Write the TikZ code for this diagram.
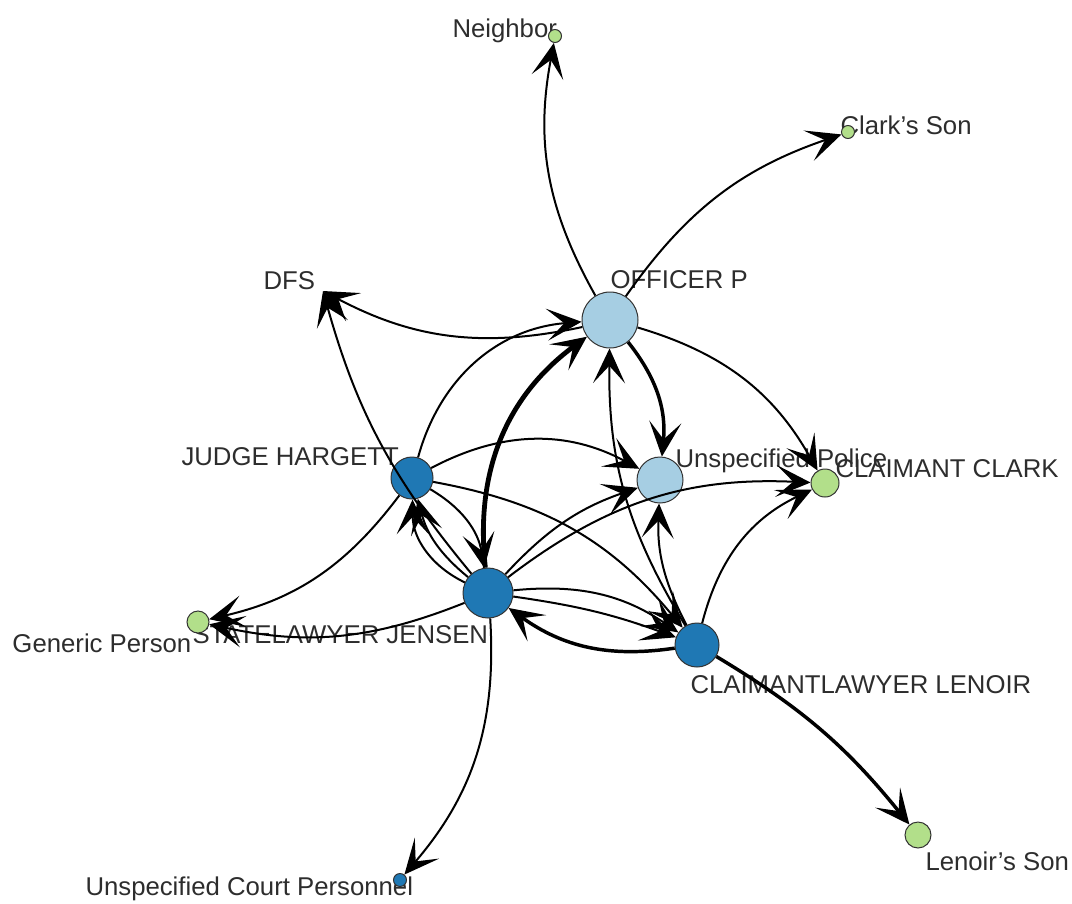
\documentclass[tikz,border=0pt]{standalone}
\usepackage{fontspec}
\setmainfont{Liberation Sans}
\usetikzlibrary{arrows.meta}

\definecolor{roleDark}{RGB}{31,120,180}
\definecolor{roleLight}{RGB}{166,206,227}
\definecolor{roleGreen}{RGB}{178,223,138}
\definecolor{rimGray}{RGB}{51,51,51}
\definecolor{textGray}{RGB}{45,45,45}

\tikzset{every picture/.style={line width=0.75pt}}
\tikzset{
  actor/.style={circle, draw=rimGray, line width=0.75pt, inner sep=0pt},
  tie/.style={line width=1.5pt, -{Stealth[length=26pt,width=24pt,inset=13pt]}},
  heavy/.style={tie, line width=2.6pt},
  heavier/.style={tie, line width=3.6pt},
  name text/.style={anchor=base west, inner sep=0pt, text=textGray, font=\fontsize{19.3}{23}\selectfont}
}

\begin{document}
\begin{tikzpicture}[x=0.75pt,y=0.75pt,yscale=-1,xscale=1]
\useasboundingbox (0,0) rectangle (1072,904);

% Text Node
\node [name text] (tNeighbor) at (452,37) {Neighbor};
\node [name text] (tClarkSon) at (840,134) {Clark's Son};
\node [name text] (tDFS) at (263,289) {DFS};
\node [name text] (tOfficer) at (610,288) {OFFICER P};
\node [name text] (tJudge) at (181,465) {JUDGE HARGETT};
\node [name text] (tPolice) at (675,467) {Unspecified Police};
\node [name text] (tClark) at (835,477) {CLAIMANT CLARK};
\node [name text] (tGeneric) at (12,652) {Generic Person};
\node [name text] (tJensen) at (192,643) {STATELAWYER JENSEN};
\node [name text] (tLenoir) at (690,693) {CLAIMANTLAWYER LENOIR};
\node [name text] (tLenoirSon) at (925,870) {Lenoir's Son};
\node [name text] (tCourt) at (85,895) {Unspecified Court Personnel};

%Shape: Circle
\node [actor, fill=roleLight, minimum size=42pt] (officer) at (610,320) {};
\node [actor, fill=roleLight, minimum size=34.5pt] (police) at (660,480) {};
\node [actor, fill=roleDark, minimum size=31.5pt] (judge) at (412,478) {};
\node [actor, fill=roleDark, minimum size=37.5pt] (jensen) at (488,593) {};
\node [actor, fill=roleDark, minimum size=33pt] (lenoir) at (697,645) {};
\node [actor, fill=roleGreen, minimum size=21pt] (clark) at (825,483) {};
\node [actor, fill=roleGreen, minimum size=9.75pt] (neighbor) at (555,36) {};
\node [actor, fill=roleGreen, minimum size=9.75pt] (clarkson) at (848,132) {};
\node [actor, fill=roleGreen, minimum size=16.5pt] (generic) at (198,622) {};
\node [actor, fill=roleGreen, minimum size=19.5pt] (lenoirson) at (918,835) {};
\node [actor, fill=roleDark, minimum size=9.75pt] (court) at (400,880) {};
\coordinate (dfs) at (323,291);

%Curve Lines (yscale=-1 mirrors, so bend right bows to the left of travel)
\draw [tie] (officer) to [bend right=20] (neighbor);
\draw [tie] (officer) to [bend right=18] (clarkson);
\draw [tie] (officer) to [bend right=20] (dfs);
\draw [tie] (officer) to [bend right=22] (clark);
\draw [heavy] (officer) to [bend right=22] (police);
\draw [tie] (judge) to [bend right=35] (officer);
\draw [heavier] (jensen) to [bend right=30] (officer);
\draw [tie] (lenoir) to [bend right=16] (officer);
\draw [tie] (judge) to [bend right=28] (police);
\draw [tie] (jensen) to [bend right=14] (police);
\draw [tie] (lenoir) to [bend right=15] (police);
\draw [tie] (jensen) to [bend right=20] (clark);
\draw [tie] (lenoir) to [bend right=25] (clark);
\draw [tie] (judge) to [bend right=25] (jensen);
\draw [tie] (jensen) to [bend right=32] (judge);
\draw [tie] (jensen) to [bend right=18] (judge);
\draw [tie] (judge) to [bend right=20] (lenoir);
\draw [tie] (jensen) to [bend right=20] (lenoir);
\draw [tie] (jensen) to [bend right=6] (lenoir);
\draw [heavy] (lenoir) to [bend right=22] (jensen);
\draw [tie] (jensen) to [bend right=12] (dfs);
\draw [tie] (judge) to [bend right=20] (generic);
\draw [tie] (jensen) to [bend right=17] (generic);
\draw [tie] (jensen) to [bend right=22] (court);
\draw [heavy] (lenoir) to [bend right=10] (lenoirson);

\end{tikzpicture}
\end{document}
